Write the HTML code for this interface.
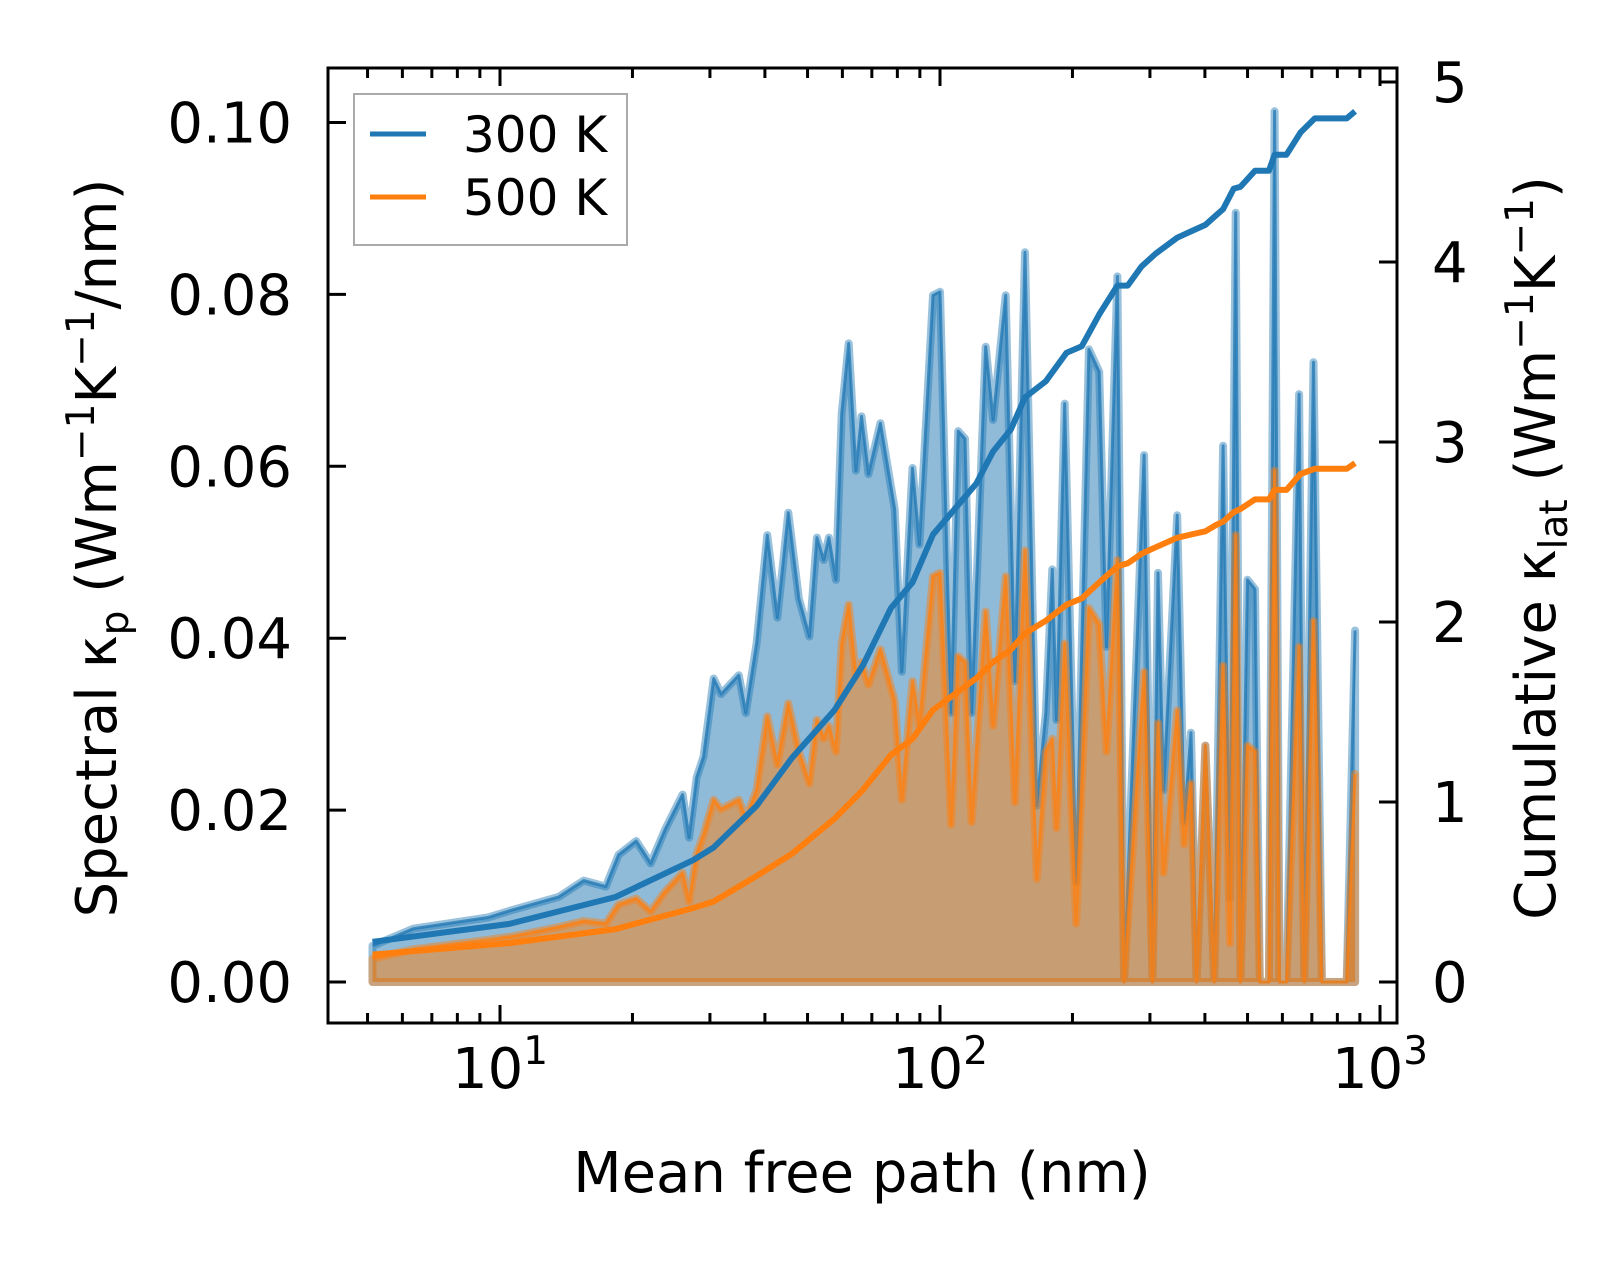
<!DOCTYPE html>
<html><head><meta charset="utf-8"><style>
html,body{margin:0;padding:0;background:#fff;}
svg{display:block;font-family:"DejaVu Sans","Liberation Sans",sans-serif;}
</style></head><body>
<svg id="chart" width="1623" height="1263" viewBox="0 0 1623 1263" xmlns="http://www.w3.org/2000/svg">
<rect x="0" y="0" width="1623" height="1263" fill="#fff"/>
<g id="plot"></g>
<g id="axes"></g>
<text x="862" y="1192" font-size="56" text-anchor="middle">Mean free path (nm)</text>
<text transform="translate(116,548) rotate(-90)" font-size="56" text-anchor="middle">Spectral κ<tspan font-size="39" dy="12">p</tspan><tspan dy="-12"> (Wm</tspan><tspan font-size="39" dy="-22">−1</tspan><tspan dy="22">K</tspan><tspan font-size="39" dy="-22">−1</tspan><tspan dy="22">/nm)</tspan></text>
<text transform="translate(1555,548) rotate(-90)" font-size="56" text-anchor="middle">Cumulative κ<tspan font-size="39" dy="12">lat</tspan><tspan dy="-12"> (Wm</tspan><tspan font-size="39" dy="-22">−1</tspan><tspan dy="22">K</tspan><tspan font-size="39" dy="-22">−1</tspan><tspan dy="22">)</tspan></text>
<g>
<rect x="354" y="94" width="273" height="151" fill="#fff" stroke="#aaa" stroke-width="2"/>
<line x1="370" y1="134" x2="426" y2="134" stroke="#1f77b4" stroke-width="5"/>
<text x="463" y="152" font-size="50">300 K</text>
<line x1="370" y1="197" x2="426" y2="197" stroke="#ff7f0e" stroke-width="5"/>
<text x="463" y="215" font-size="50">500 K</text>
</g>
</svg>
<script>
const mfp = [5.13,6.35,9.39,10.7,13.6,15.5,17.4,18.6,20.4,22.0,23.7,26.0,26.9,28.0,29.0,30.6,31.8,34.9,36.2,38.3,40.5,42.7,45.2,47.8,50.5,52.5,54.4,55.9,58.0,59.8,62.0,64.4,66.3,68.8,73.2,78.9,81.9,86.6,89.8,96.4,100,106,110,114,118,127,132,141,148,156,166,174,180,184,192,204,218,230,239,253,262,291,304,313,322,346,359,372,383,401,420,440,456,470,482,500,520,533,559,576,591,613,655,673,706,738,840,878];
const spec300 = [0.0042,0.0062,0.0075,0.0084,0.0099,0.0118,0.0111,0.0148,0.0164,0.0138,0.0177,0.0218,0.0168,0.0238,0.0262,0.0353,0.0335,0.0357,0.0313,0.0394,0.052,0.0424,0.0546,0.0446,0.0402,0.0517,0.0491,0.0517,0.0468,0.0661,0.0743,0.0595,0.0658,0.0591,0.065,0.055,0.0361,0.0598,0.0509,0.0799,0.0803,0.0313,0.0641,0.0632,0.0313,0.0739,0.0654,0.0799,0.035,0.0849,0.0205,0.0313,0.048,0.0305,0.0673,0.0116,0.0736,0.071,0.039,0.0821,0,0.0613,0,0.0476,0.0223,0.0543,0.0186,0.029,0,0.0275,0,0.0624,0.0097,0.0895,0,0.0468,0.0457,0,0,0.1013,0,0,0.0684,0,0.0721,0,0,0.0409];
const spec500 = [0.0027,0.0038,0.0049,0.0053,0.0064,0.0071,0.0068,0.009,0.0097,0.0082,0.0105,0.0127,0.0094,0.0149,0.0171,0.0212,0.0201,0.0212,0.019,0.0223,0.0309,0.0253,0.0324,0.0268,0.0231,0.0305,0.0283,0.0298,0.0268,0.0394,0.0439,0.0357,0.0372,0.0346,0.0387,0.0327,0.0212,0.035,0.0298,0.0472,0.0476,0.0183,0.0379,0.0372,0.0186,0.0431,0.0298,0.0472,0.0209,0.0502,0.012,0.0268,0.0283,0.0179,0.0394,0.0068,0.0435,0.0416,0.0268,0.0491,0,0.0361,0,0.0301,0.0127,0.0316,0.016,0.0231,0,0.0275,0,0.0368,0.0045,0.052,0,0.0275,0.0268,0,0,0.0595,0,0,0.039,0,0.042,0,0,0.0242];
const cumMfp = [5.13,10.5,18.3,27.5,30.6,38.3,46.1,57.6,66.8,77.4,86.6,96.4,108,121,132,145,156,174,194,210,230,253,267,287,309,346,372,401,424,440,465,482,520,559,576,613,660,711,840,878];
const cum300 = [0.223,0.323,0.472,0.677,0.748,0.979,1.245,1.511,1.759,2.078,2.22,2.486,2.628,2.77,2.947,3.071,3.248,3.337,3.496,3.532,3.709,3.869,3.869,3.975,4.046,4.135,4.17,4.206,4.259,4.294,4.408,4.418,4.507,4.507,4.596,4.596,4.72,4.798,4.798,4.837];
const cum500 = [0.152,0.216,0.294,0.411,0.447,0.589,0.713,0.908,1.067,1.262,1.351,1.511,1.599,1.688,1.777,1.848,1.936,2.007,2.096,2.131,2.22,2.309,2.326,2.379,2.415,2.468,2.486,2.504,2.539,2.557,2.61,2.628,2.681,2.681,2.734,2.734,2.823,2.851,2.851,2.883];
const leftTicks = [0,0.02,0.04,0.06,0.08,0.10];
const leftTickLabels = ["0.00","0.02","0.04","0.06","0.08","0.10"];
const rightTicks = [0,1,2,3,4,5];
const xMajor = [10,100,1000];

const NS = "http://www.w3.org/2000/svg";
const L=328,R=1397,T=68,B=1023;
function xs(v){return 500+440*(Math.log10(v)-1);}
function yl(v){return 982-v*8595;}
function yr(v){return 982-v*180;}
function mk(tag,attrs,parent){const e=document.createElementNS(NS,tag);for(const k in attrs)e.setAttribute(k,attrs[k]);parent.appendChild(e);return e;}
const plot=document.getElementById('plot'), axes=document.getElementById('axes');

function spectral(vals,color,name){
  let pts=mfp.map((m,i)=>xs(m).toFixed(1)+','+yl(vals[i]).toFixed(1));
  const poly=mk('polygon',{points:xs(mfp[0]).toFixed(1)+','+yl(0)+' '+pts.join(' ')+' '+xs(mfp[mfp.length-1]).toFixed(1)+','+yl(0),fill:color,'fill-opacity':0.5,stroke:color,'stroke-opacity':0.45,'stroke-width':8,'stroke-linejoin':'round'},plot);
  
  
  const ln=mk('polyline',{points:pts.join(' '),fill:'none',stroke:color,'stroke-opacity':0.75,'stroke-width':3,'stroke-linejoin':'round'},plot);
  
  
}
spectral(spec300,'#1f77b4','spectral-300k');
spectral(spec500,'#ff7f0e','spectral-500k');
function cum(vals,color,name){
  const ln=mk('polyline',{points:cumMfp.map((m,i)=>xs(m).toFixed(1)+','+yr(vals[i]).toFixed(1)).join(' '),fill:'none',stroke:color,'stroke-width':6,'stroke-linejoin':'round'},plot);
  
  
}
cum(cum300,'#1f77b4','cumulative-300k');
cum(cum500,'#ff7f0e','cumulative-500k');

const sp=mk('rect',{x:L,y:T,width:R-L,height:B-T,fill:'none',stroke:'#000','stroke-width':3},axes);


for(let d=1;d<=1000;d*=10){for(let k=1;k<10;k++){const v=d*k;const x=xs(v);if(x<L+2||x>R-2)continue;const len=k===1?18:10;
  const t1=mk('line',{x1:x,y1:B,x2:x,y2:B-len,stroke:'#000','stroke-width':3},axes);
  
  
  const t2=mk('line',{x1:x,y1:T,x2:x,y2:T+len,stroke:'#000','stroke-width':3},axes);
  
  
}}
xMajor.forEach(v=>{const x=xs(v);const t=mk('text',{x:x,y:1088,'font-size':56,'text-anchor':'middle'},axes);
  
  
  t.appendChild(document.createTextNode('10'));
  const s=mk('tspan',{'font-size':39,dy:-24},t);s.textContent=String(Math.round(Math.log10(v)));});
leftTicks.forEach((v,i)=>{const y=yl(v);
  const t=mk('line',{x1:L,y1:y,x2:L+18,y2:y,stroke:'#000','stroke-width':3},axes);
  
  
  const lb=mk('text',{x:292,y:y+20,'font-size':56,'text-anchor':'end'},axes);
  
  
  lb.textContent=leftTickLabels[i];});
rightTicks.forEach(v=>{const y=yr(v);
  const t=mk('line',{x1:R,y1:y,x2:R-18,y2:y,stroke:'#000','stroke-width':3},axes);
  
  
  const lb=mk('text',{x:1432,y:y+20,'font-size':56},axes);
  
  
  lb.textContent=String(v);});
</script>
</body></html>
